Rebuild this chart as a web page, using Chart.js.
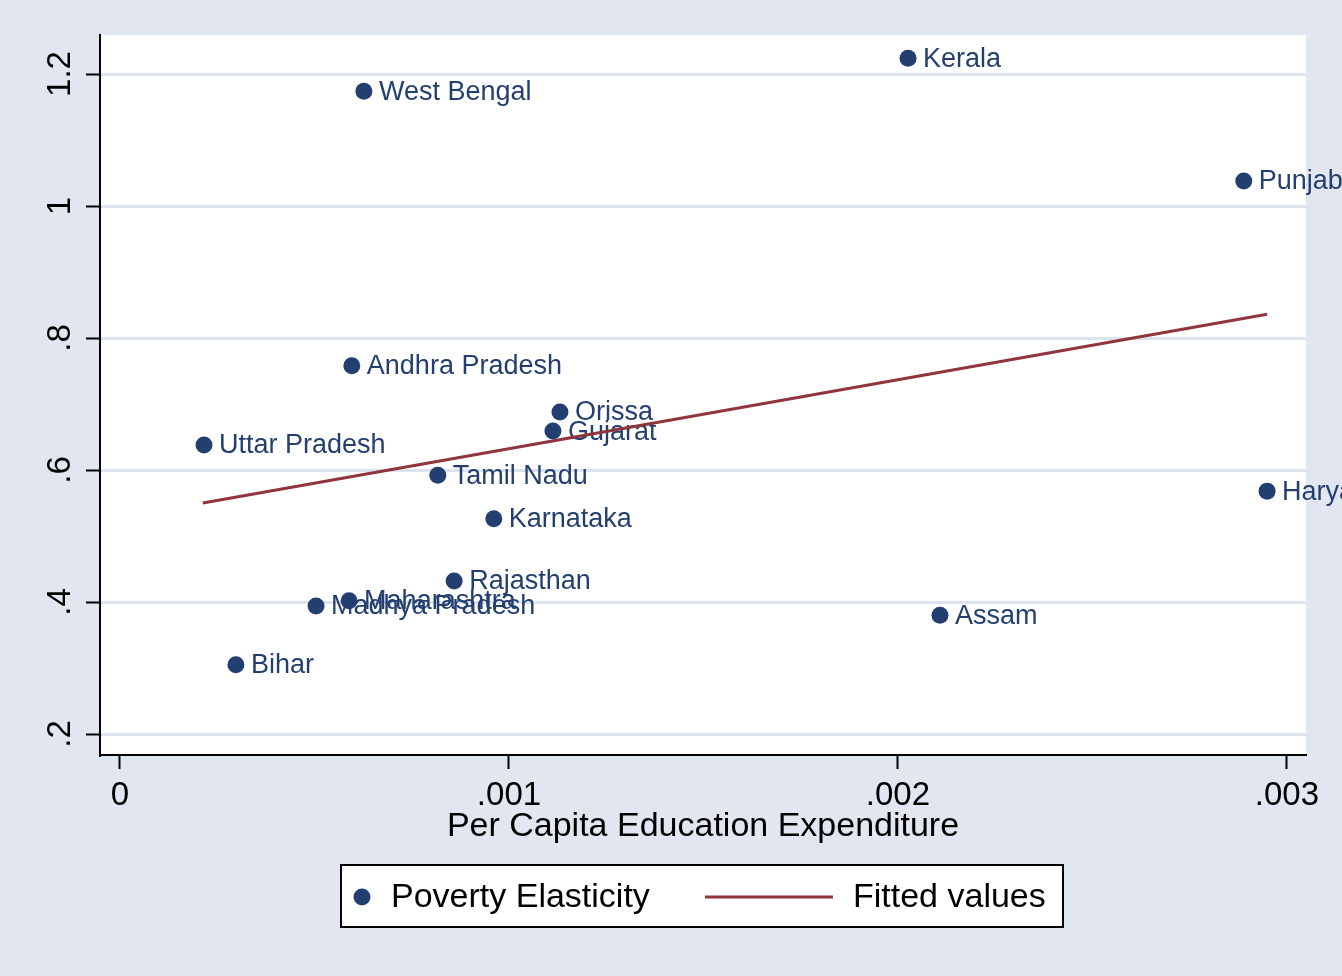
<!DOCTYPE html>
<html>
<head>
<meta charset="utf-8">
<title>Poverty Elasticity vs Per Capita Education Expenditure</title>
<script src="https://cdn.jsdelivr.net/npm/chart.js@4/dist/chart.umd.min.js"></script>
<style>
  html, body { margin: 0; padding: 0; background: #e1e6f0; }
  #wrap { width: 1342px; height: 976px; }
</style>
</head>
<body>
<div id="wrap"><canvas id="c" width="1342" height="976"></canvas></div>
<script>
// data
const states = ['Kerala', 'West Bengal', 'Punjab', 'Andhra Pradesh', 'Orissa', 'Gujarat',
  'Uttar Pradesh', 'Tamil Nadu', 'Haryana', 'Karnataka', 'Rajasthan', 'Maharashtra',
  'Madhya Pradesh', 'Assam', 'Bihar'];
const expenditure = [0.002026, 0.000627, 0.002889, 0.000596, 0.001131, 0.001113,
  0.000216, 0.000817, 0.002949, 0.000961, 0.000859, 0.000589,
  0.000504, 0.002108, 0.000298];
const elasticity = [1.224, 1.174, 1.038, 0.758, 0.688, 0.659,
  0.638, 0.592, 0.568, 0.526, 0.432, 0.402,
  0.394, 0.380, 0.305];
const fitX = [0.000213, 0.002949];
const fitY = [0.550, 0.836];

const xTicks = [0, 0.001, 0.002, 0.003];
const xTickLabels = ['0', '.001', '.002', '.003'];
const yTicks = [0.2, 0.4, 0.6, 0.8, 1, 1.2];
const yTickLabels = ['.2', '.4', '.6', '.8', '1', '1.2'];
const xTitle = 'Per Capita Education Expenditure';
const seriesNames = ['Poverty Elasticity', 'Fitted values'];

const FONT = "'Liberation Sans', Arial, sans-serif";
const NAVY = '#233f70';
const MAROON = '#90353b';
const BG = '#e1e6f0';
const GRID = '#dde3ee';

// outer region + white plot region
const background = {
  id: 'background',
  beforeDraw(chart) {
    const { ctx, chartArea: a } = chart;
    ctx.save();
    ctx.fillStyle = BG;
    ctx.fillRect(0, 0, chart.width, chart.height);
    ctx.fillStyle = '#ffffff';
    ctx.fillRect(a.left, a.top, a.right - a.left, a.bottom - a.top);
    ctx.restore();
  }
};

// marker labels, drawn right after the scatter so the fit line sits on top
const pointLabels = {
  id: 'pointLabels',
  afterDatasetDraw(chart, args) {
    if (args.index !== 0) return;
    const ctx = chart.ctx;
    ctx.save();
    ctx.font = '27px ' + FONT;
    ctx.fillStyle = NAVY;
    ctx.textAlign = 'left';
    ctx.textBaseline = 'middle';
    args.meta.data.forEach((pt, i) => {
      ctx.fillText(states[i], pt.x + 15, pt.y + 1);
    });
    ctx.restore();
  }
};

// y tick labels are rotated, Stata style
const yLabels = {
  id: 'yLabels',
  afterDraw(chart) {
    const ctx = chart.ctx;
    const y = chart.scales.y;
    ctx.save();
    ctx.font = '33px ' + FONT;
    ctx.fillStyle = '#000000';
    ctx.textAlign = 'center';
    ctx.textBaseline = 'middle';
    yTicks.forEach((v, i) => {
      ctx.save();
      ctx.translate(61, y.getPixelForValue(v));
      ctx.rotate(-Math.PI / 2);
      ctx.fillText(yTickLabels[i], 0, 0);
      ctx.restore();
    });
    ctx.restore();
  }
};

// boxed legend under the axis title
const boxLegend = {
  id: 'boxLegend',
  afterDraw(chart) {
    const ctx = chart.ctx;
    const ds = chart.data.datasets;
    const cy = 897;
    ctx.save();
    ctx.fillStyle = '#ffffff';
    ctx.fillRect(341, 865, 722, 62);
    ctx.strokeStyle = '#000000';
    ctx.lineWidth = 2;
    ctx.strokeRect(341, 865, 722, 62);

    ctx.fillStyle = ds[0].backgroundColor;
    ctx.beginPath();
    ctx.arc(362, cy, 8.5, 0, Math.PI * 2);
    ctx.fill();

    ctx.strokeStyle = ds[1].borderColor;
    ctx.lineWidth = ds[1].borderWidth;
    ctx.beginPath();
    ctx.moveTo(705, cy);
    ctx.lineTo(833, cy);
    ctx.stroke();

    ctx.font = '34px ' + FONT;
    ctx.fillStyle = '#000000';
    ctx.textAlign = 'left';
    ctx.textBaseline = 'middle';
    ctx.fillText(ds[0].label, 391, cy + 1);
    ctx.fillText(ds[1].label, 853, cy + 1);
    ctx.restore();
  }
};

new Chart(document.getElementById('c'), {
  type: 'scatter',
  data: {
    datasets: [
      {
        label: seriesNames[0],
        data: expenditure.map((x, i) => ({ x: x, y: elasticity[i] })),
        backgroundColor: NAVY,
        borderColor: NAVY,
        borderWidth: 0,
        pointRadius: 8.5,
        order: 2
      },
      {
        label: seriesNames[1],
        data: fitX.map((x, i) => ({ x: x, y: fitY[i] })),
        showLine: true,
        borderColor: MAROON,
        backgroundColor: MAROON,
        borderWidth: 3,
        pointRadius: 0,
        order: 1
      }
    ]
  },
  options: {
    responsive: false,
    animation: false,
    layout: { padding: { top: 35, right: 36, bottom: 121, left: 0 } },
    plugins: {
      legend: { display: false },
      tooltip: { enabled: false }
    },
    scales: {
      x: {
        type: 'linear',
        min: -0.0000514,
        max: 0.003049,
        afterBuildTicks(scale) { scale.ticks = xTicks.map(v => ({ value: v })); },
        afterFit(scale) { scale.height = 100; },
        ticks: {
          font: { family: FONT, size: 33 },
          color: '#000000',
          padding: 7,
          maxRotation: 0,
          autoSkip: false,
          callback: (v, i) => xTickLabels[i]
        },
        grid: {
          drawOnChartArea: false,
          tickLength: 14,
          tickColor: '#000000',
          tickWidth: 2
        },
        border: { color: '#000000', width: 2 },
        title: {
          display: true,
          text: xTitle,
          font: { family: FONT, size: 34 },
          color: '#000000',
          padding: { top: 0, bottom: 8 }
        }
      },
      y: {
        type: 'linear',
        min: 0.1682,
        max: 1.2591,
        afterBuildTicks(scale) { scale.ticks = yTicks.map(v => ({ value: v })); },
        afterFit(scale) { scale.width = 100; },
        ticks: { display: false },
        grid: {
          color: GRID,
          lineWidth: 3,
          tickLength: 14,
          tickColor: '#000000',
          tickWidth: 2
        },
        border: { color: '#000000', width: 2 }
      }
    }
  },
  plugins: [background, pointLabels, yLabels, boxLegend]
});
</script>
</body>
</html>
